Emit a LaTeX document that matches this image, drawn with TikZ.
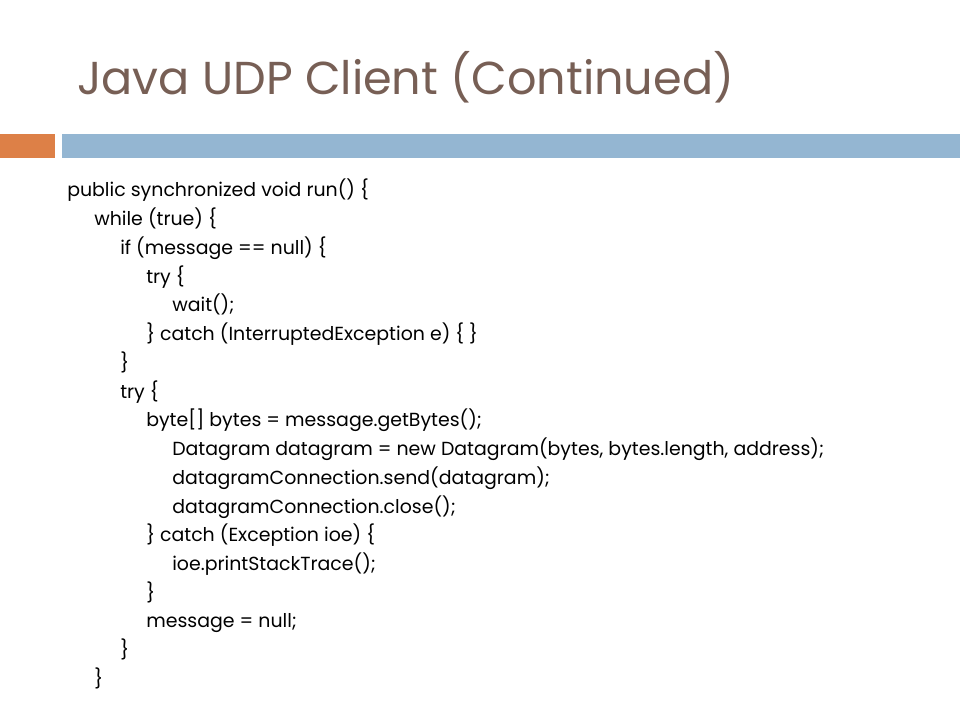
\documentclass[tikz,border=0pt]{standalone}
\usepackage{fontspec}
\setmainfont{Poppins}
\definecolor{titlecol}{HTML}{775F55}
\definecolor{barorange}{HTML}{DD8047}
\definecolor{barblue}{HTML}{94B6D2}
\begin{document}
\begin{tikzpicture}[x=0.75pt,y=-0.75pt,
  titletext/.style={anchor=base west,inner sep=0pt,text=titlecol,font=\fontsize{34.6}{40}\selectfont},
  codeline/.style={anchor=base west,inner sep=0pt,text=black,font=\fontsize{14.2}{17}\selectfont}]
\useasboundingbox (0,0) rectangle (960,720);
\fill[white] (0,0) rectangle (960,720);
\fill[barorange] (0,134) rectangle (55,158);
\fill[barblue] (62,134) rectangle (960,158);
\node[titletext] (title) at (77,95) {Java UDP Client (Continued)};
\def\lsp{28.73}
\node[codeline] (l1)  at (67, 197) {public synchronized void run() \{};
\node[codeline] (l2)  at (94, 197+1*\lsp) {while (true) \{};
\node[codeline] (l3)  at (120,197+2*\lsp) {if (message == null) \{};
\node[codeline] (l4)  at (146,197+3*\lsp) {try \{};
\node[codeline] (l5)  at (172,197+4*\lsp) {wait();};
\node[codeline] (l6)  at (146,197+5*\lsp) {\} catch (InterruptedException e) \{ \}};
\node[codeline] (l7)  at (120,197+6*\lsp) {\}};
\node[codeline] (l8)  at (120,197+7*\lsp) {try \{};
\node[codeline] (l9)  at (146,197+8*\lsp) {byte[] bytes = message.getBytes();};
\node[codeline] (l10) at (172,197+9*\lsp) {Datagram datagram = new Datagram(bytes, bytes.length, address);};
\node[codeline] (l11) at (172,197+10*\lsp) {datagramConnection.send(datagram);};
\node[codeline] (l12) at (172,197+11*\lsp) {datagramConnection.close();};
\node[codeline] (l13) at (146,197+12*\lsp) {\} catch (Exception ioe) \{};
\node[codeline] (l14) at (172,197+13*\lsp) {ioe.printStackTrace();};
\node[codeline] (l15) at (146,197+14*\lsp) {\}};
\node[codeline] (l16) at (146,197+15*\lsp) {message = null;};
\node[codeline] (l17) at (120,197+16*\lsp) {\}};
\node[codeline] (l18) at (94, 197+17*\lsp) {\}};
\end{tikzpicture}
\end{document}
